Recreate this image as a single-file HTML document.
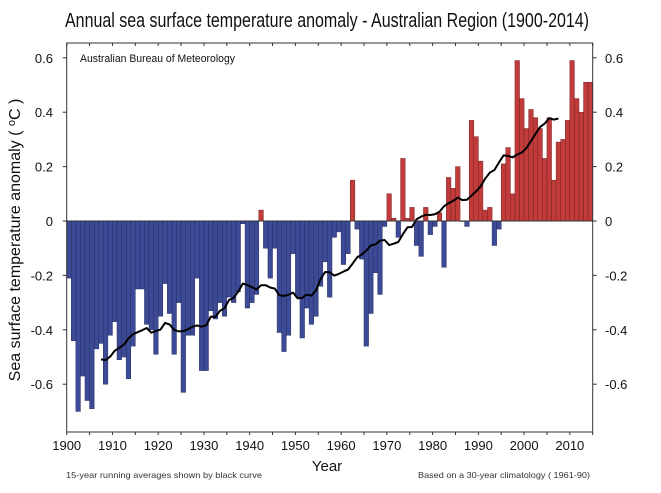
<!DOCTYPE html>
<html><head><meta charset="utf-8"><style>
html,body{margin:0;padding:0;background:#fff;}
svg{display:block;font-family:"Liberation Sans",Arial,sans-serif;}
</style></head><body>
<svg id="chart" width="661" height="493" viewBox="0 0 661 493">
<text x="327" y="27" text-anchor="middle" font-size="20" textLength="524" lengthAdjust="spacingAndGlyphs" fill="#111">Annual sea surface temperature anomaly - Australian Region (1900-2014)</text>
<g id="bars"></g>
<g id="axes"></g>
<text x="80" y="62" font-size="11" textLength="155" lengthAdjust="spacingAndGlyphs" fill="#111">Australian Bureau of Meteorology</text>
<text transform="translate(20,240) rotate(-90)" text-anchor="middle" font-size="16" fill="#111">Sea surface temperature anomaly ( <tspan font-size="11" dy="-5">o</tspan><tspan dy="5">C )</tspan></text>
<text x="327" y="471" text-anchor="middle" font-size="15" fill="#111">Year</text>
<text x="66" y="478" font-size="8.5" fill="#333" textLength="196" lengthAdjust="spacingAndGlyphs">15-year running averages shown by black curve</text>
<text x="590" y="478" text-anchor="end" font-size="8.5" fill="#333" textLength="172" lengthAdjust="spacingAndGlyphs">Based on a 30-year climatology ( 1961-90)</text>
</svg>
<script>
const startYear = 1900;
const anomalies = [
-0.21,-0.44,-0.70,-0.57,-0.66,-0.69,-0.47,-0.45,-0.60,-0.42,
-0.37,-0.51,-0.50,-0.58,-0.46,-0.25,-0.25,-0.38,-0.40,-0.49,
-0.35,-0.23,-0.34,-0.49,-0.30,-0.63,-0.42,-0.42,-0.21,-0.55,
-0.55,-0.33,-0.36,-0.30,-0.35,-0.28,-0.30,-0.26,-0.01,-0.32,
-0.30,-0.27,0.04,-0.10,-0.21,-0.10,-0.41,-0.48,-0.42,-0.12,
-0.28,-0.43,-0.32,-0.38,-0.35,-0.24,-0.15,-0.28,-0.06,-0.04,
-0.16,-0.12,0.15,-0.03,-0.14,-0.46,-0.34,-0.19,-0.27,-0.02,
0.10,0.01,-0.06,0.23,0.01,0.05,-0.09,-0.13,0.05,-0.05,
-0.02,0.03,-0.17,0.16,0.12,0.20,0.00,-0.02,0.37,0.31,
0.22,0.04,0.05,-0.09,-0.03,0.21,0.27,0.10,0.59,0.45,
0.34,0.41,0.38,0.34,0.23,0.38,0.15,0.29,0.30,0.37,
0.59,0.45,0.40,0.51,0.51];
const yTicks = [0.6,0.4,0.2,0,-0.2,-0.4,-0.6];
const yTickLabels = ["0.6","0.4","0.2","0","-0.2","-0.4","-0.6"];
const xTickYears = [1900,1910,1920,1930,1940,1950,1960,1970,1980,1990,2000,2010];
const runWindow = 15;

const NS = "http://www.w3.org/2000/svg";
const X0 = 66.7, X1 = 592.7, TOP = 43, BOT = 432;
const yearW = (X1 - X0) / 115;
function xScale(year){ return X0 + (year - 1900) * yearW; }
function yScale(v){ return 221 - v * 272; }
function mk(tag, attrs, parent){ const e = document.createElementNS(NS, tag); for (const k in attrs) e.setAttribute(k, attrs[k]); parent.appendChild(e); return e; }

const bars = document.getElementById('bars');
anomalies.forEach((v, i) => {
  const yr = startYear + i;
  const x = xScale(yr), y0 = yScale(0), y1 = yScale(v);
  const r = mk('rect', {x: x, y: Math.min(y0, y1), width: yearW, height: Math.max(Math.abs(y1 - y0), 0.5),
    fill: v >= 0 ? '#c23b3b' : '#3d4a96', stroke: v >= 0 ? '#7a2424' : '#262f66', 'stroke-width': 0.5}, bars);
  
  
});

// running average
const half = Math.floor(runWindow / 2);
let pts = [];
for (let i = half; i < anomalies.length - half; i++) {
  let s = 0; for (let j = i - half; j <= i + half; j++) s += anomalies[j];
  pts.push(xScale(startYear + i + 0.5).toFixed(1) + ',' + yScale(s / runWindow).toFixed(1));
}
const curve = mk('polyline', {points: pts.join(' '), fill: 'none', stroke: '#000', 'stroke-width': 2, 'stroke-linejoin': 'round'}, bars);



const axes = document.getElementById('axes');
const frame = mk('rect', {x: X0, y: TOP, width: X1 - X0, height: BOT - TOP, fill: 'none', stroke: '#333', 'stroke-width': 1}, axes);


const zl = mk('line', {x1: X0, x2: X1, y1: yScale(0), y2: yScale(0), stroke: '#333', 'stroke-width': 1}, axes);



yTicks.forEach((v, i) => {
  const y = yScale(v);
  mk('line', {x1: X0 - 4, x2: X0, y1: y, y2: y, stroke: '#333'}, axes);
  mk('line', {x1: X1, x2: X1 + 4, y1: y, y2: y, stroke: '#333'}, axes);
  const tl = mk('text', {x: 53, y: y + 5, 'text-anchor': 'end', 'font-size': 13, fill: '#111'}, axes);
  tl.textContent = yTickLabels[i];
  
  
  const tr = mk('text', {x: 605, y: y + 5, 'text-anchor': 'start', 'font-size': 13, fill: '#111'}, axes);
  tr.textContent = yTickLabels[i];
  
  
});
for (let yr = 1900; yr <= 2015; yr += 5) {
  const x = xScale(yr);
  mk('line', {x1: x, x2: x, y1: BOT, y2: BOT + 3, stroke: '#333'}, axes);
  mk('line', {x1: x, x2: x, y1: TOP, y2: TOP + 3, stroke: '#333'}, axes);
}
xTickYears.forEach(yr => {
  const t = mk('text', {x: xScale(yr), y: 450, 'text-anchor': 'middle', 'font-size': 13, fill: '#111'}, axes);
  t.textContent = yr;
  
  
});
</script>
</body></html>
